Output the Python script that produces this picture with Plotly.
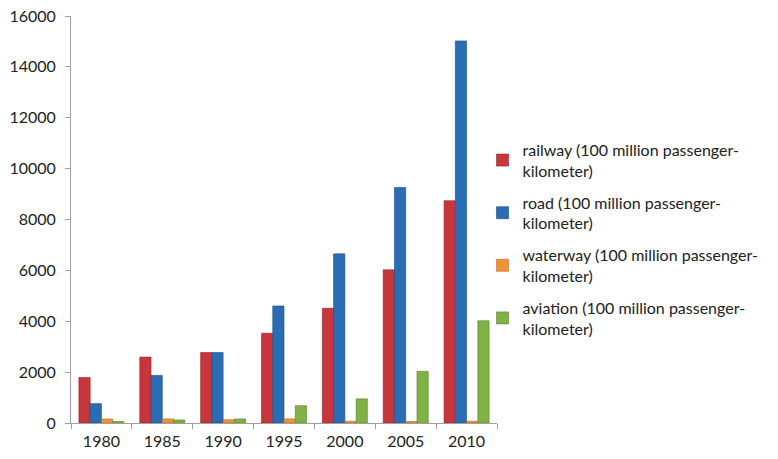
import plotly.graph_objects as go

years = ["1980", "1985", "1990", "1995", "2000", "2005", "2010"]
railway = [1790, 2590, 2770, 3530, 4510, 6020, 8740]
road = [760, 1870, 2770, 4600, 6650, 9260, 15020]
waterway = [160, 160, 130, 160, 70, 60, 70]
aviation = [60, 120, 160, 680, 950, 2030, 4020]

names = [
    "railway (100 million passenger-<br>kilometer)",
    "road (100 million passenger-<br>kilometer)",
    "waterway (100 million passenger-<br>kilometer)",
    "aviation (100 million passenger-<br>kilometer)",
]
series = [railway, road, waterway, aviation]
colors = ["#C8363B", "#2A6DB5", "#F0923A", "#80B245"]
lines = ["#8E2528", "#1D4E85", "#B86A22", "#5A8230"]

fig = go.Figure()
for i, (n, s, c, lc) in enumerate(zip(names, series, colors, lines)):
    fig.add_trace(go.Bar(x=years, y=s, name=n, legendgroup=f"g{i}",
                         marker=dict(color=c, line=dict(color=lc, width=0.6))))

font = "Lato, 'Open Sans', sans-serif"
fig.update_layout(
    width=778, height=459,
    margin=dict(l=71, r=281, t=16, b=36),
    paper_bgcolor="white", plot_bgcolor="white",
    barmode="group", bargap=0.26, bargroupgap=0,
    font=dict(family=font, size=16, color="#222222"),
    showlegend=True,
    legend=dict(x=0.966, y=0.713, xanchor="left", yanchor="top",
                font=dict(size=16, color="#222222"), itemwidth=30,
                tracegroupgap=8, bgcolor="rgba(0,0,0,0)"),
    xaxis=dict(showline=True, linecolor="#A0A0A0", linewidth=1,
               ticks="outside", tickson="boundaries", ticklen=5, tickcolor="#A0A0A0",
               showgrid=False, tickfont=dict(size=16), ticklabelstandoff=4,
               automargin=False),
    yaxis=dict(range=[0, 16000], dtick=2000, showline=True, linecolor="#A0A0A0",
               linewidth=1, ticks="outside", ticklen=5, tickcolor="#A0A0A0",
               showgrid=False, zeroline=False, tickfont=dict(size=16), tickformat="d",
               ticklabelstandoff=6, automargin=False),
)
fig.write_html("out.html")
